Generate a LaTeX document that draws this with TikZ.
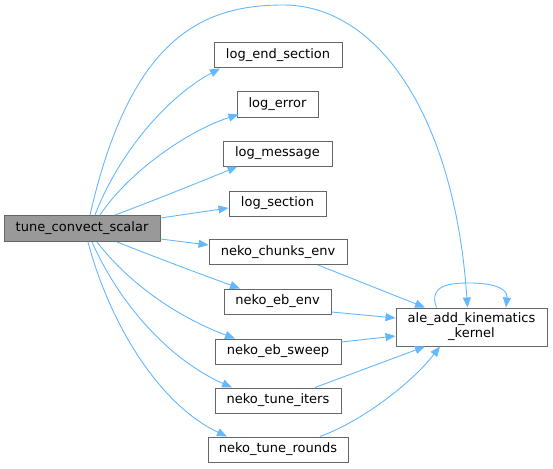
\documentclass[tikz,border=0pt]{standalone}
\usepackage{fontspec}
\setmainfont{DejaVu Sans}
\usetikzlibrary{arrows.meta}
\definecolor{edgeblue}{HTML}{63B8FF}
\definecolor{boxgray}{HTML}{666666}
\definecolor{fillgray}{HTML}{999999}
\begin{document}
\begin{tikzpicture}[x=1pt,y=-1pt,
  fn/.style={draw=boxgray,line width=1pt,fill=white,inner sep=0pt,minimum height=25pt,font=\fontsize{13}{15}\selectfont,text=black},
  cur/.style={fn,fill=fillgray},
  call/.style={draw=edgeblue,line width=0.9pt,-{Triangle[length=10pt,width=8pt]}}]
\useasboundingbox (0,0) rectangle (553,468);
\node[cur,minimum width=156pt,minimum height=26pt] (tcs) at (82,228.5) {tune\_convect\_scalar};
\node[fn,minimum width=128pt] (les) at (278,55.5) {log\_end\_section};
\node[fn,minimum width=81pt] (le) at (277.5,104.5) {log\_error};
\node[fn,minimum width=109pt] (lm) at (277.5,153.5) {log\_message};
\node[fn,minimum width=97pt] (ls) at (277.5,203.5) {log\_section};
\node[fn,minimum width=138pt] (nce) at (278,252) {neko\_chunks\_env};
\node[fn,minimum width=107pt] (nee) at (277.5,301.5) {neko\_eb\_env};
\node[fn,minimum width=126pt] (nes) at (278,351.5) {neko\_eb\_sweep};
\node[fn,minimum width=126pt] (nti) at (278,400.5) {neko\_tune\_iters};
\node[fn,minimum width=140pt] (ntr) at (278,449.5) {neko\_tune\_rounds};
\node[fn,minimum width=151pt,minimum height=38pt,align=center] (ale) at (471.5,327) {ale\_add\_kinematics\\\_kernel};
% edges from tune_convect_scalar
\draw[call] ([xshift=8pt]tcs.north) .. controls (130,40) and (200,5) .. (283,5) .. controls (380,5) and (455,120) .. ([xshift=-4pt]ale.north);
\draw[call] ([xshift=13pt]tcs.north) .. controls (120,150) and (170,95) .. ([xshift=-58pt]les.south);
\draw[call] ([xshift=18pt]tcs.north) .. controls (130,170) and (190,130) .. ([xshift=2pt,yshift=3pt]le.south west);
\draw[call] ([xshift=33pt]tcs.north) .. controls (150,202) and (200,182) .. ([xshift=-40pt]lm.south);
\draw[call] ([yshift=10.5pt]tcs.east) -- ([yshift=-4.5pt]ls.west);
\draw[call] ([yshift=-10.5pt]tcs.east) -- ([yshift=7pt]nce.west);
\draw[call] ([xshift=35pt]tcs.south) .. controls (155,257) and (200,274) .. ([xshift=-37.5pt]nee.north);
\draw[call] ([xshift=15pt]tcs.south) .. controls (130,285) and (180,318) .. ([xshift=-43pt]nes.north);
\draw[call] ([xshift=10pt]tcs.south) .. controls (120,305) and (170,360) .. ([xshift=-46pt]nti.north);
\draw[call] ([xshift=6pt]tcs.south) .. controls (110,325) and (160,405) .. ([xshift=-51pt]ntr.north);
% edges into ale_add_kinematics_kernel
\draw[call] ([xshift=40pt]nce.south) -- ([xshift=-46.5pt]ale.north);
\draw[call] ([yshift=-10.5pt]nee.east) -- ([yshift=9pt]ale.west);
\draw[call] ([yshift=9.5pt]nes.east) -- ([yshift=-9pt]ale.west);
\draw[call] ([xshift=37pt]nti.north) -- ([xshift=-46.5pt]ale.south);
\draw[call] ([xshift=42pt]ntr.north) .. controls (360,422) and (410,385) .. ([xshift=-31.5pt]ale.south);
% self loop
\draw[call] ([xshift=-35pt]ale.north) .. controls (428,285) and (450,283) .. (470,283) .. controls (492,283) and (508,288) .. ([xshift=34.5pt]ale.north);
\end{tikzpicture}
\end{document}
